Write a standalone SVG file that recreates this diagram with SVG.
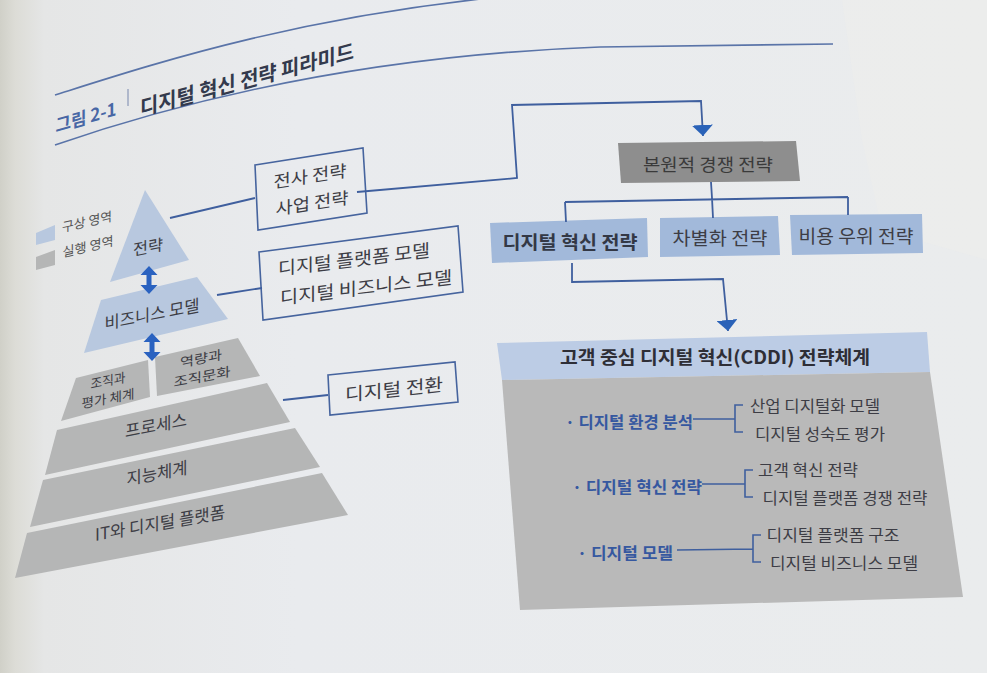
<svg xmlns="http://www.w3.org/2000/svg" width="987" height="673" viewBox="0 0 987 673">
<defs>
<linearGradient id="page" x1="0" y1="0" x2="1" y2="0">
<stop offset="0" stop-color="#d0d0c8"/>
<stop offset="0.015" stop-color="#dcdcd6"/>
<stop offset="0.045" stop-color="#e5e6e6"/>
<stop offset="0.3" stop-color="#e9ebee"/>
<stop offset="1" stop-color="#eaeced"/>
</linearGradient>
<marker id="ah" viewBox="0 0 11 21" refX="11" refY="10.5" markerWidth="11" markerHeight="21" markerUnits="userSpaceOnUse" orient="auto">
<path d="M0,0 L11,10.5 L0,21 Z" fill="#2a62b8"/>
</marker>
<style>
.t{font-family:"Noto Sans CJK KR","Noto Sans",sans-serif;fill:#3d3d45;text-anchor:middle;dominant-baseline:central}
.b{font-weight:bold}
.rule{fill:none;stroke:#5a74a8;stroke-width:1.6}
.conn{fill:none;stroke:#3f5f9e;stroke-width:1.8}
.box{fill:none;stroke:#46649e;stroke-width:1.6}
.pb{fill:#b8c8df}
.pg{fill:#b5b6b6}
.bb{fill:#a2b9da}
.dg{fill:#8e8e8e}
.arr{fill:#2a62c0}
.it{fill:#3658a0;font-weight:bold}
</style>
</defs>
<rect x="0" y="0" width="987" height="673" fill="url(#page)"/>
<polygon points="842,0 987,0 987,260 882,230 862,140" fill="#eeeeec" opacity="0.5"/>

<g id="title">
<path class="rule" d="M55,95 C150,65 300,15 520,-5"/>
<path class="rule" d="M55,145 C200,95 380,55 600,47 L833,44"/>
<text class="t b" transform="translate(86,116) skewY(-16)" style="fill:#4867a5;font-size:18px" textLength="61" lengthAdjust="spacingAndGlyphs">그림 2-1</text>
<line x1="128" y1="89" x2="128" y2="106" stroke="#8a98b8" stroke-width="1.2"/>
<text class="t b" transform="translate(247,78) skewY(-15)" style="fill:#333a4d;font-size:21px" textLength="214" lengthAdjust="spacingAndGlyphs">디지털 혁신 전략 피라미드</text>
</g>

<g id="legend">
<polygon class="pb" points="36,233 55,225 55,240 36,245"/>
<polygon class="pg" points="36,257 55,250 55,265 36,270"/>
<text class="t" transform="translate(87,221) skewY(-13)" style="font-size:13px;fill:#555" textLength="50" lengthAdjust="spacingAndGlyphs">구상 영역</text>
<text class="t" transform="translate(88,246) skewY(-13)" style="font-size:13px;fill:#555" textLength="51" lengthAdjust="spacingAndGlyphs">실행 영역</text>
</g>

<g id="pyr-strategy">
<polygon class="pb" points="145,190 189,260 110,282"/>
<text class="t" transform="translate(148,246) skewY(-11)" style="font-size:16px" textLength="30" lengthAdjust="spacingAndGlyphs">전략</text>
</g>
<g id="pyr-bm">
<polygon class="pb" points="101,300 197,277 228,319 84,353"/>
<text class="t" transform="translate(152,313) skewY(-11)" style="font-size:17px" textLength="95" lengthAdjust="spacingAndGlyphs">비즈니스 모델</text>
</g>
<g id="pyr-org">
<polygon class="pg" points="76,378 148,360 150,397 61,421"/>
<text class="t" transform="translate(108,380) skewY(-11)" style="font-size:13px" textLength="35" lengthAdjust="spacingAndGlyphs">조직과</text>
<text class="t" transform="translate(108,398) skewY(-11)" style="font-size:13px" textLength="53" lengthAdjust="spacingAndGlyphs">평가 체계</text>
</g>
<g id="pyr-capability">
<polygon class="pg" points="155,357 238,338 260,376 157,396"/>
<text class="t" transform="translate(201,358) skewY(-11)" style="font-size:13px" textLength="42" lengthAdjust="spacingAndGlyphs">역량과</text>
<text class="t" transform="translate(202,376) skewY(-11)" style="font-size:13px" textLength="57" lengthAdjust="spacingAndGlyphs">조직문화</text>
</g>
<g id="pyr-process">
<polygon class="pg" points="57,430 267,383 290,422 45,475"/>
<text class="t" transform="translate(156,424) skewY(-11)" style="font-size:17px" textLength="62" lengthAdjust="spacingAndGlyphs">프로세스</text>
</g>
<g id="pyr-intel">
<polygon class="pg" points="43,480 295,428 320,467 30,527"/>
<text class="t" transform="translate(157,472) skewY(-11)" style="font-size:17px" textLength="61" lengthAdjust="spacingAndGlyphs">지능체계</text>
</g>
<g id="pyr-it">
<polygon class="pg" points="27,533 322,473 348,515 15,578"/>
<text class="t" transform="translate(160,522) skewY(-10)" style="font-size:17px" textLength="130" lengthAdjust="spacingAndGlyphs">IT와 디지털 플랫폼</text>
</g>

<g id="arrows-pyr">
<polygon class="arr" points="149,266 157.5,275 151.5,275 151.5,285 157.5,285 149,294 140.5,285 146.5,285 146.5,275 140.5,275"/>
<polygon class="arr" points="152,333 160.5,342 154.5,342 154.5,352 160.5,352 152,361 143.5,352 149.5,352 149.5,342 143.5,342"/>
</g>

<g id="box-corp">
<polygon class="box" points="255,165 363,148 367,213 258,230"/>
<text class="t" transform="translate(310,175) skewY(-9)" style="font-size:17px" textLength="73" lengthAdjust="spacingAndGlyphs">전사 전략</text>
<text class="t" transform="translate(312,202) skewY(-9)" style="font-size:17px" textLength="73" lengthAdjust="spacingAndGlyphs">사업 전략</text>
</g>
<g id="box-platform">
<polygon class="box" points="259,252 458,226 463,292 263,320"/>
<text class="t" transform="translate(354,258) skewY(-7)" style="font-size:18px" textLength="152" lengthAdjust="spacingAndGlyphs">디지털 플랫폼 모델</text>
<text class="t" transform="translate(366,286) skewY(-7)" style="font-size:18px" textLength="172" lengthAdjust="spacingAndGlyphs">디지털 비즈니스 모델</text>
</g>
<g id="box-dx">
<polygon class="box" points="328,375 455,362 458,402 330,415"/>
<text class="t" transform="translate(394,388) skewY(-6)" style="font-size:18px" textLength="98" lengthAdjust="spacingAndGlyphs">디지털 전환</text>
</g>

<g id="node-generic">
<polygon class="dg" points="618,143 796,141 800,181 621,183"/>
<text class="t" x="708" y="163" style="font-size:17px;fill:#3a3a3a" textLength="130" lengthAdjust="spacingAndGlyphs">본원적 경쟁 전략</text>
</g>
<g id="node-dis">
<polygon class="bb" points="490,223 647,218 648,257 492,263"/>
<text class="t b" x="570" y="241" style="font-size:18px;fill:#333845" textLength="135" lengthAdjust="spacingAndGlyphs">디지털 혁신 전략</text>
</g>
<g id="node-diff">
<polygon class="bb" points="660,218 778,216 780,255 660,257"/>
<text class="t" x="720" y="237" style="font-size:18px" textLength="95" lengthAdjust="spacingAndGlyphs">차별화 전략</text>
</g>
<g id="node-cost">
<polygon class="bb" points="790,215 922,214 923,253 792,255"/>
<text class="t" x="856" y="235" style="font-size:18px" textLength="115" lengthAdjust="spacingAndGlyphs">비용 우위 전략</text>
</g>

<g id="node-cddi">
<polygon points="497,343 927,332 930,372 502,380" fill="#bccce5"/>
<polygon points="502,380 930,372 963,597 520,610" fill="#b9b9b9"/>
<text class="t b" x="715" y="356" style="font-size:18px;fill:#2e2e36" textLength="310" lengthAdjust="spacingAndGlyphs">고객 중심 디지털 혁신(CDDI) 전략체계</text>
<g fill="none" stroke="#3f5f9e" stroke-width="1.6">
<path d="M693,419 L735,419 M743,405 L735,405 L735,432 L743,432"/>
<path d="M702,484 L745,484 M753,470 L745,470 L745,497 L753,497"/>
<path d="M677,550 L753,549 M761,535 L753,535 L753,562 L761,562"/>
</g>
<text class="t it" x="629" y="421" style="font-size:16px" textLength="128" lengthAdjust="spacingAndGlyphs">· 디지털 환경 분석</text>
<text class="t it" x="637" y="486" style="font-size:16px" textLength="130" lengthAdjust="spacingAndGlyphs">· 디지털 혁신 전략</text>
<text class="t it" x="625" y="552" style="font-size:16px" textLength="96" lengthAdjust="spacingAndGlyphs">· 디지털 모델</text>
<text class="t" x="815" y="405" style="font-size:15.5px" textLength="130" lengthAdjust="spacingAndGlyphs">산업 디지털화 모델</text>
<text class="t" x="820" y="433" style="font-size:15.5px" textLength="130" lengthAdjust="spacingAndGlyphs">디지털 성숙도 평가</text>
<text class="t" x="808" y="469" style="font-size:15.5px" textLength="100" lengthAdjust="spacingAndGlyphs">고객 혁신 전략</text>
<text class="t" x="845" y="497" style="font-size:15.5px" textLength="165" lengthAdjust="spacingAndGlyphs">디지털 플랫폼 경쟁 전략</text>
<text class="t" x="833" y="534" style="font-size:15.5px" textLength="133" lengthAdjust="spacingAndGlyphs">디지털 플랫폼 구조</text>
<text class="t" x="844" y="562" style="font-size:15.5px" textLength="148" lengthAdjust="spacingAndGlyphs">디지털 비즈니스 모델</text>
</g>

<g id="connectors">
<path class="conn" d="M170,218 L255,198"/>
<path class="conn" d="M217,295 L262,288"/>
<path class="conn" d="M283,400 L328,395"/>
<path class="conn" d="M357,192 L517,178 L512,105 L701,101 L703,136" marker-end="url(#ah)"/>
<path class="conn" d="M711,182 L712,198 M565,202 L848,197 M565,202 L566,222 M712,198 L713,218 M848,197 L848,215"/>
<path class="conn" d="M572,263 L572,282 L723,279 L728,331" marker-end="url(#ah)"/>
</g>
</svg>
